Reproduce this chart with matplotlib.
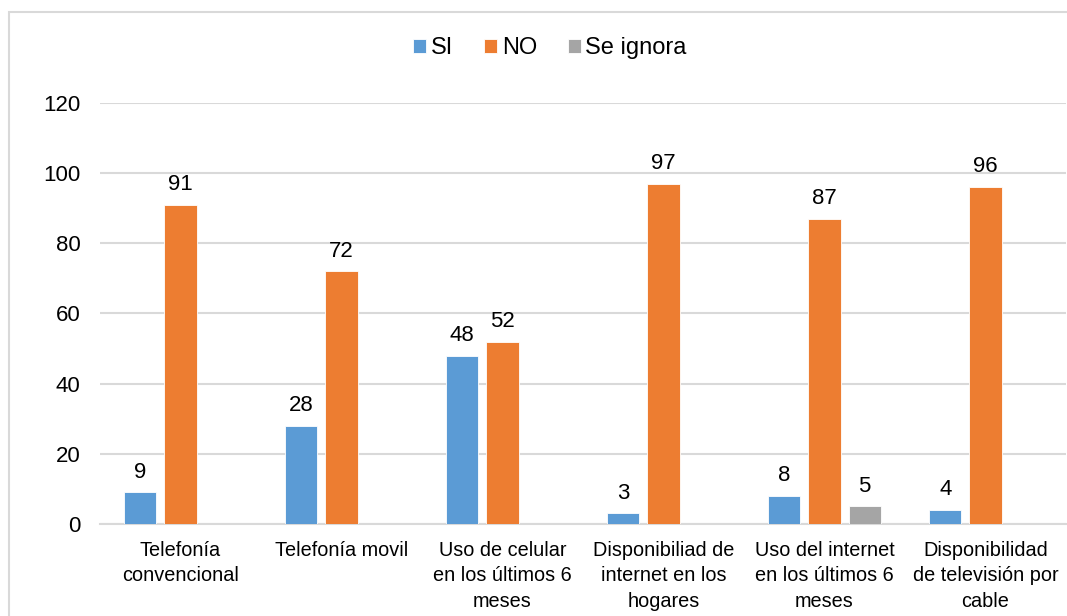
import numpy as np
import matplotlib.pyplot as plt
from matplotlib.patches import Rectangle

plt.rcParams['font.family'] = ['Liberation Sans', 'DejaVu Sans']

categories = ["Telefonía\nconvencional", "Telefonía movil",
              "Uso de celular\nen los últimos 6\nmeses",
              "Disponibiliad de\ninternet en los\nhogares",
              "Uso del internet\nen los últimos 6\nmeses",
              "Disponibilidad\nde televisión por\ncable"]
si = [9, 28, 48, 3, 8, 4]
no = [91, 72, 52, 97, 87, 96]
se_ignora = [0, 0, 0, 0, 5, 0]

series = [("SI", si, "#5B9BD5"), ("NO", no, "#ED7D31"), ("Se ignora", se_ignora, "#A5A5A5")]

fig = plt.figure(figsize=(10.67, 6.16), dpi=100)
ax = fig.add_axes([0.0937, 0.1494, 0.9053, 0.6834])

# light frame around the whole chart
fig.patches.append(Rectangle((9 / 1067, -0.1), 1.2, 1 - 12 / 616 + 0.1,
                             transform=fig.transFigure, fill=False,
                             edgecolor="#D9D9D9", linewidth=1.5))

x = np.arange(len(categories))
width = 0.2
offsets = [-0.25, 0, 0.25]
for (name, vals, color), off in zip(series, offsets):
    bars = ax.bar(x + off, vals, width, color=color, label=name,
                  edgecolor="white", linewidth=0.6, zorder=3)
    for b, v in zip(bars, vals):
        if v > 0:
            ax.annotate(str(v), (b.get_x() + b.get_width() / 2, v),
                        xytext=(0, 7), textcoords="offset points",
                        ha="center", va="bottom", fontsize=16)

ax.set_xlim(-0.5, len(categories) - 0.5)
ax.set_ylim(0, 120)
ax.set_yticks(range(0, 121, 20))
ax.set_xticks(x)
ax.set_xticklabels(categories, fontsize=14.3, linespacing=1.45)
ax.tick_params(axis="y", length=0, pad=14, labelsize=16)
ax.tick_params(axis="x", length=0, pad=12)
ax.grid(axis="y", color="#D9D9D9", linewidth=1.5, zorder=0)
for s in ["top", "right", "left"]:
    ax.spines[s].set_visible(False)
ax.spines["bottom"].set_color("#D9D9D9")
ax.spines["bottom"].set_linewidth(1.5)

fig.legend(loc="center", bbox_to_anchor=(550 / 1067, 1 - 48 / 616), ncol=3,
           frameon=False, fontsize=17, handlelength=0.55, handleheight=0.55,
           handletextpad=0.2, columnspacing=1.3)

fig.savefig("out.png", dpi=100)
